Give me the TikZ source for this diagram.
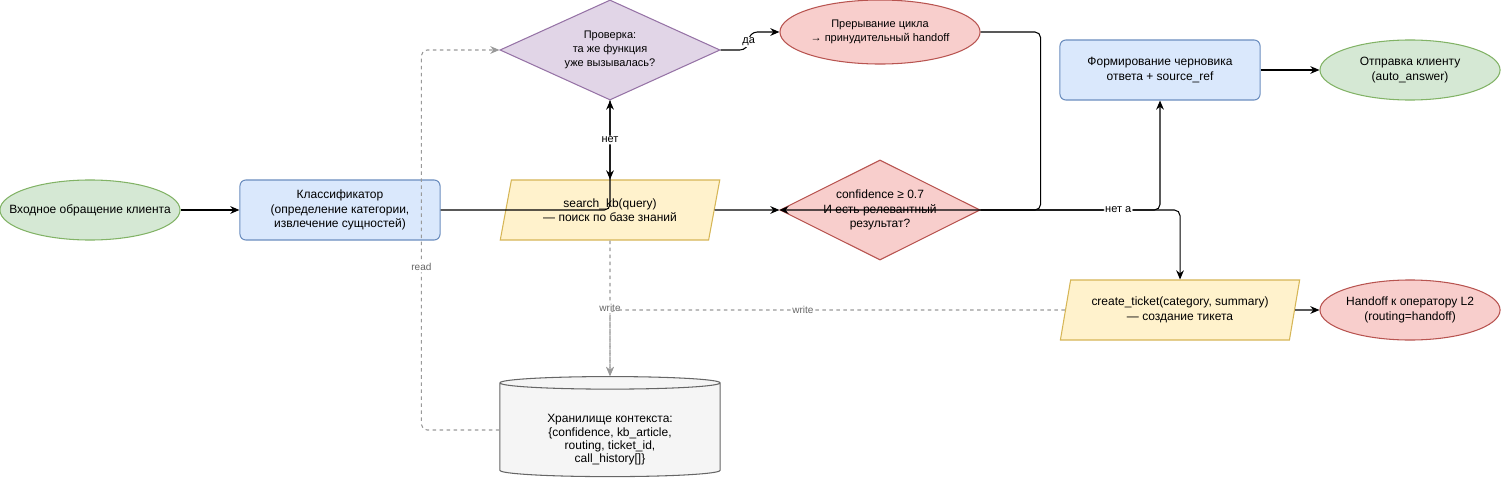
\documentclass[tikz,border=0pt]{standalone}
\usepackage{fontspec}
\setmainfont{Liberation Sans}
\usetikzlibrary{shapes.geometric,arrows.meta}

\definecolor{greenF}{HTML}{D5E8D4}\definecolor{greenD}{HTML}{82B366}
\definecolor{blueF}{HTML}{DAE8FC}\definecolor{blueD}{HTML}{6C8EBF}
\definecolor{yellowF}{HTML}{FFF2CC}\definecolor{yellowD}{HTML}{D6B656}
\definecolor{redF}{HTML}{F8CECC}\definecolor{redD}{HTML}{B85450}
\definecolor{purpleF}{HTML}{E1D5E7}\definecolor{purpleD}{HTML}{9673A6}
\definecolor{grayF}{HTML}{F5F5F5}\definecolor{grayD}{HTML}{666666}
\definecolor{dashD}{HTML}{999999}

\tikzset{
  base/.style={draw,line width=.3pt,align=center,inner sep=0pt,
    font=\fontsize{3.41pt}{4.1pt}\selectfont},
  term/.style={base,ellipse,inner xsep=-.4cm,minimum width=1.8cm,minimum height=.6cm},
  procbox/.style={base,rectangle,rounded corners=1.7pt,fill=blueF,draw=blueD,
    minimum width=2cm,minimum height=.6cm},
  decide/.style={base,diamond,aspect=2,inner xsep=-.3cm,
    font=\fontsize{3.13pt}{3.9pt}\selectfont},
  io/.style={base,trapezium,trapezium left angle=72,trapezium right angle=108,
    trapezium stretches=true,fill=yellowF,draw=yellowD,minimum height=.6cm},
  flow/.style={line width=.3pt,rounded corners=1.6pt,-{Stealth[length=2.6pt,width=2.2pt]}},
  ctx/.style={flow,dashed,draw=dashD,dash pattern=on 1pt off 1pt,
    -{Stealth[length=2.6pt,width=2.2pt,fill=dashD]}},
  lbl/.style={fill=white,inner sep=.4pt,font=\fontsize{3.13pt}{3.6pt}\selectfont},
  ctxlbl/.style={lbl,text=grayD,font=\fontsize{2.85pt}{3.4pt}\selectfont},
}

\begin{document}
\begin{tikzpicture}[x=.01cm,y=-.01cm]
  \path[use as bounding box] (0,0) rectangle (1501,482);
  % nodes
  \node[term,fill=greenF,draw=greenD] (in) at (90,210) {Входное обращение клиента};
  \node[procbox] (cls) at (340,210) {Классификатор\\(определение категории,\\извлечение сущностей)};
  \node[decide,fill=purpleF,draw=purpleD,minimum width=2.2cm,minimum height=1cm] (chk) at (610,50)
    {Проверка:\\та же функция\\уже вызывалась?};
  \node[term,fill=redF,draw=redD,minimum width=2cm,minimum height=.64cm,
    font=\fontsize{3.13pt}{3.9pt}\selectfont] (brk) at (880,32)
    {Прерывание цикла\\→ принудительный handoff};
  \node[io,minimum width=2.2cm] (kb) at (610,210) {search\_kb(query)\\— поиск по базе знаний};
  \node[decide,fill=redF,draw=redD,minimum width=2cm,minimum height=1cm,
    font=\fontsize{3.41pt}{4.1pt}\selectfont] (conf) at (880,210)
    {confidence ≥ 0.7\\И есть релевантный\\результат?};
  \node[procbox] (draft) at (1160,70) {Формирование черновика\\ответа + source\_ref};
  \node[term,fill=greenF,draw=greenD] (send) at (1410,70) {Отправка клиенту\\(auto\_answer)};
  \node[io,minimum width=2.4cm] (ticket) at (1180,310) {create\_ticket(category, summary)\\— создание тикета};
  \node[term,fill=redF,draw=redD] (l2) at (1410,310) {Handoff к оператору L2\\(routing=handoff)};
  \node[base,cylinder,shape border rotate=90,aspect=.1,fill=grayF,draw=grayD,
    minimum width=2.2cm,minimum height=1cm,font=\fontsize{3.41pt}{3.8pt}\selectfont] (store) at (610,430)
    {\rule{0pt}{8pt}Хранилище контекста:\\\{confidence, kb\_article,\\routing, ticket\_id,\\call\_history[]\}};
  % connectors
  \draw[flow] (in) -- (cls);
  \draw[flow] (cls.east) -| (chk.south);
  \draw[flow] (chk.south) -- node[lbl] {нет} (kb.north);
  \draw[flow] (kb.east) -- (conf.west);
  \draw[flow,rounded corners=2.5pt] (chk.east) -- ++(28,0) |- node[lbl,pos=.22] {да} (brk.west);
  \draw[flow] (brk.east) -- ++(60,0) |- (conf.west);
  \draw[flow] (conf.east) -| (draft.south);
  \draw[flow] (conf.east) -| node[lbl,pos=.345] {нет а} (ticket.north);
  \draw[flow] (draft) -- (send);
  \draw[flow] (ticket) -- (l2);
  % context store
  \draw[ctx] (kb.south) -- node[ctxlbl] {write} (store.north);
  \draw[ctx] (ticket.west) -| node[ctxlbl,pos=.288] {write} (store.north);
  \draw[ctx] (store.west) -- ++(-78,0) |- node[ctxlbl,pos=.214] {read} (chk.west);
\end{tikzpicture}
\end{document}
